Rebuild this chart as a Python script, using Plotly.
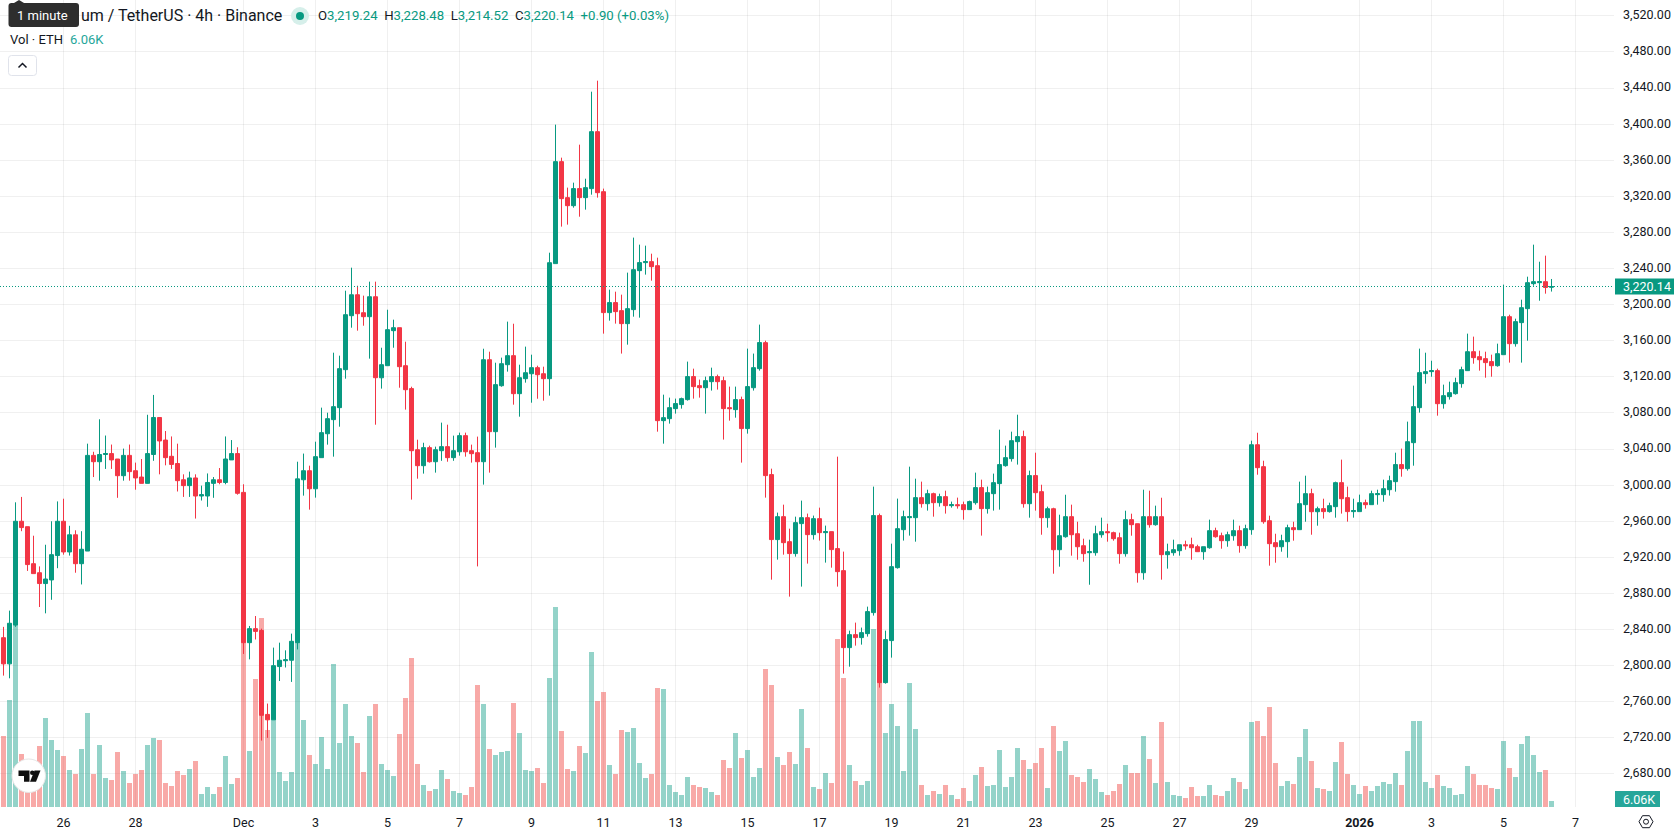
import pandas as pd
import plotly.graph_objects as go

GREEN = "#089981"
RED = "#F23645"
TEXT = "#131722"
GRID = "rgba(46,46,46,0.07)"
FONT = "Roboto"

# 4h Binance ETH/USDT candles
opens = [
    2831, 2802, 2845, 2960, 2954, 2913, 2903, 2891, 2895, 2922,
    2960, 2926, 2945, 2913, 2927, 3033, 3026, 3034, 3035, 3029,
    3010.5, 3033, 3016, 3009, 3002, 3034, 3075, 3050, 3032, 3024,
    3006, 2999.5, 3008, 2988, 2988, 3002, 3006, 3003, 3028, 3035,
    2992, 2825.5, 2841, 2839, 2746, 2740, 2799, 2805.5, 2806, 2825.5,
    3006, 3016, 2996, 3030.5, 3057, 3072.6, 3085.9, 3128, 3187.8, 3211,
    3191.1, 3186.7, 3208.8, 3119, 3132.4, 3171.2, 3174.5, 3132.4, 3107, 3039.3,
    3021.6, 3041.6, 3026, 3038.2, 3042.7, 3030.5, 3037, 3054.9, 3038.2, 3036,
    3026, 3139, 3059.3, 3110.2, 3133.5, 3143.5, 3101.4, 3118, 3123.5, 3130.2,
    3123.5, 3118, 3245.5, 3358.5, 3318.6, 3309.7, 3328.6, 3318.6, 3328.6, 3391.7,
    3325.2, 3191.2, 3202.3, 3193.4, 3179, 3194.5, 3237.7, 3246.6, 3247.7, 3243.2,
    3071.5, 3073.7, 3084.8, 3089.3, 3094.8, 3120.3, 3110.3, 3108, 3114.7, 3120.3,
    3115.8, 3085.9, 3083.7, 3094.8, 3062.7, 3108, 3129.1, 3157.9, 3011.7, 2939.7,
    2965.1, 2937.4, 2924.2, 2957.4, 2964, 2945.2, 2962.9, 2947.4, 2948.5, 2929.7,
    2905.3, 2820, 2834.4, 2831.1, 2835.5, 2858.8, 2966.3, 2781.2, 2827.8, 2908.6,
    2950.7, 2964, 2964, 2986.2, 2979.5, 2990.6, 2980.6, 2987.3, 2977.3, 2978.4,
    2978.4, 2972.9, 2980.6, 2997.3, 2974, 2990.6, 3001.7, 3021.6, 3029.4, 3048.2,
    3053.8, 2979.5, 3010.6, 2992.8, 2964, 2973.9, 2928.5, 2942.9, 2965.1, 2946.2,
    2932.9, 2925.2, 2925.2, 2945.1, 2948.5, 2947.4, 2941.8, 2924.1, 2961.8, 2957.3,
    2903, 2965.1, 2956.2, 2965.1, 2923, 2925.2, 2927.4, 2934, 2934, 2931.8,
    2926.3, 2930.7, 2949.6, 2944, 2938.5, 2944, 2949.6, 2933, 2950.7, 3044.8,
    3020.5, 2960.6, 2936.3, 2931.8, 2937.4, 2952.9, 2950.7, 2978.4, 2990.6, 2970.6,
    2974, 2970.7, 2976.2, 3002.8, 2986.2, 2970.7, 2970.7, 2980.6, 2978.4, 2989.5,
    2989.5, 2995, 3003.9, 3022.8, 3018.3, 3047.1, 3085.9, 3123.6, 3125.8, 3126.9,
    3090.3, 3098.1, 3101.4, 3112.5, 3126.9, 3147.9, 3142.4, 3140.2, 3136.9, 3132.4,
    3144.6, 3186.7, 3156.8, 3180.1, 3195.6, 3223.3, 3224.4, 3225.5, 3219.24,
]
highs = [
    2843, 2861, 2981, 2987, 2954, 2944, 2910, 2934, 2960, 2982,
    2985, 2955, 2950, 2949, 3046, 3037, 3073, 3055, 3045, 3029,
    3040.5, 3045, 3025, 3029, 3078, 3100, 3075, 3060, 3054, 3046,
    3012, 3015, 3012, 2999.5, 3013, 3009, 3019, 3054, 3050, 3042,
    3001, 2844, 2855, 2841, 2758, 2820, 2825.5, 2817, 2835.5, 3026,
    3035, 3021.6, 3048.2, 3085.9, 3080.3, 3146.8, 3143.5, 3215.5, 3241, 3221,
    3210, 3225.5, 3225.5, 3152.3, 3194.4, 3183.4, 3174.5, 3159, 3109.1, 3050.4,
    3047, 3043.8, 3042.7, 3069.3, 3067, 3054.9, 3058.2, 3058.2, 3044.9, 3053.8,
    3151.2, 3147.9, 3135.7, 3141.3, 3181.2, 3178.9, 3133.5, 3153.5, 3144.6, 3132.4,
    3131.3, 3257.6, 3399.5, 3362.9, 3329.7, 3335.2, 3377.3, 3339.6, 3436, 3448.2,
    3328.6, 3216.7, 3214.4, 3211.1, 3235.5, 3274.3, 3266.5, 3265.4, 3256.5, 3252.1,
    3100.3, 3097, 3095.9, 3097, 3136.9, 3129.1, 3117, 3120.3, 3130.2, 3122.5,
    3120.3, 3109.2, 3109.2, 3098.1, 3151.3, 3145.8, 3177.9, 3160.1, 3018.3, 2969.6,
    2978.4, 2951.8, 2965.1, 2982.9, 2968.5, 2966.3, 2975.1, 2955.2, 2948.5, 3031.6,
    2926.4, 2838.8, 2847.7, 2842.2, 2865.4, 2998.4, 2968.5, 2838.8, 2935.2, 2985.1,
    2971.8, 3020.5, 3007.2, 3003.9, 2995, 2991.7, 2990.6, 2993.9, 2981.8, 2986.2,
    2981.8, 2982.9, 3013.9, 3006.1, 2998.4, 3012.8, 3061.5, 3043.8, 3059.3, 3078.1,
    3060.4, 3016.1, 3036, 3000.5, 2976.2, 2975, 2967.3, 2989.4, 2978.4, 2959.5,
    2940.7, 2939.6, 2955.1, 2964, 2957.3, 2948.5, 2947.4, 2971.7, 2968.4, 2957.3,
    2995, 2993.9, 2977.3, 2986.1, 2935.2, 2939.6, 2934, 2938.5, 2941.8, 2934,
    2931.8, 2961.8, 2952.9, 2947.4, 2948.5, 2961.8, 2955.1, 2956.2, 3049.3, 3058.1,
    3027.1, 2966.2, 2946.2, 2945.1, 2956.2, 2959.5, 3003.9, 3010.5, 2996.1, 2976.2,
    2985, 2980.6, 3003.9, 3028.3, 2998.4, 2985, 2989.5, 2984, 2993.9, 2995,
    3006.1, 3010.5, 3036, 3040.5, 3070.4, 3110.3, 3151.3, 3146.8, 3137.9, 3129.1,
    3111.4, 3114.7, 3119.1, 3131.3, 3167.9, 3164.6, 3149, 3147.9, 3144.6, 3156.8,
    3222.2, 3188.9, 3184.5, 3205.5, 3231, 3266.5, 3247.6, 3254.3, 3228.48,
]
lows = [
    2789, 2786, 2843, 2949, 2905, 2902, 2865, 2858, 2873, 2908,
    2923, 2922, 2903, 2890, 2927, 3009, 3005, 3018, 3018, 2986,
    3005, 3005, 2995, 3002, 3002, 3027, 3012, 3022, 3018, 2993,
    2987, 2987, 2963, 2983, 2976, 2986, 3001, 3001, 3028, 2989.5,
    2813, 2807, 2829, 2717, 2720, 2740, 2783, 2798, 2782, 2818,
    2988.4, 2972.9, 2986.2, 3030.5, 3044.9, 3031.6, 3064.8, 3118, 3174.5, 3171.2,
    3176.7, 3140.2, 3067, 3107, 3132.4, 3152.3, 3108, 3083.7, 2984, 3007.2,
    3012.8, 3025, 3013.9, 3027, 3026, 3027, 3032.7, 3031.6, 3025, 2910,
    3000.6, 3013.9, 3041.6, 3109.1, 3125.8, 3089.2, 3075.9, 3113.6, 3091.4, 3095.8,
    3093.6, 3099.2, 3245.5, 3286.5, 3288.7, 3307.5, 3297.5, 3305.3, 3321.9, 3318.6,
    3167.9, 3182.3, 3179, 3145.8, 3155.7, 3186.7, 3185.6, 3233.3, 3226.6, 3059.3,
    3046, 3068.2, 3079.3, 3084.8, 3093.7, 3095.9, 3097, 3079.3, 3104.8, 3105.9,
    3050.5, 3071.5, 3074.8, 3025, 3057.1, 3104.8, 3126.9, 2986.2, 2895.3, 2917.5,
    2923, 2876.5, 2920.8, 2887.6, 2913.1, 2939.7, 2938.6, 2914.2, 2908.6, 2887.6,
    2791.2, 2798.9, 2822.2, 2823.3, 2832.2, 2855.5, 2775.7, 2780.1, 2808.9, 2907.5,
    2938.6, 2944.1, 2937.4, 2975.1, 2971.8, 2965.1, 2976.2, 2968.5, 2975.1, 2974,
    2961.8, 2972.9, 2978.4, 2944.1, 2968.5, 2971.8, 2972.9, 3020.5, 3026.1, 3022.8,
    2975.1, 2964, 2971.8, 2945.1, 2952.9, 2901.9, 2909.7, 2941.8, 2921.9, 2917.4,
    2915.2, 2889.7, 2921.9, 2941.8, 2937.4, 2938.5, 2913, 2920.8, 2944, 2892,
    2895.3, 2952.9, 2955.1, 2895.3, 2907.5, 2921.9, 2921.9, 2928.5, 2917.4, 2926.3,
    2917.4, 2929.6, 2941.8, 2929.6, 2931.8, 2938.5, 2925.2, 2929.6, 2945.1, 3011.6,
    2957.3, 2910.8, 2914.1, 2926.3, 2919.6, 2938.5, 2950.7, 2959.5, 2945.1, 2955.1,
    2963, 2969.6, 2964, 2968.5, 2959.6, 2964, 2970.7, 2974, 2978.4, 2978.4,
    2981.7, 2988.4, 2992.8, 3009.4, 3016.1, 3021.6, 3080.4, 3112.5, 3120.2, 3077,
    3084.8, 3094.8, 3100.3, 3108, 3126.9, 3134.6, 3126.9, 3119.1, 3120.2, 3131.3,
    3144.6, 3135.8, 3153.5, 3135.8, 3160.1, 3221, 3204.4, 3212.2, 3214.52,
]
closes = [
    2802, 2847, 2960, 2953, 2912, 2902, 2891, 2896, 2923, 2960,
    2926, 2945, 2913, 2929, 3033, 3026, 3034, 3035, 3028, 3010.5,
    3033, 3015, 3008, 3002, 3035, 3075, 3049, 3030.5, 3023, 3005,
    2999.5, 3008, 2988, 2989.5, 3003, 3006, 3003, 3029, 3035, 2991,
    2825.5, 2841, 2838, 2745, 2740, 2800, 2806, 2806.5, 2827, 3007,
    3016, 2996, 3031.6, 3058.2, 3073.7, 3087, 3129.1, 3188.9, 3211, 3190,
    3186.7, 3208.8, 3119.1, 3133.5, 3172.3, 3174.5, 3131.3, 3105.8, 3038.2, 3021.6,
    3041.6, 3026, 3039.3, 3042.7, 3030.5, 3038.2, 3054.9, 3037, 3034.9, 3026,
    3139, 3059.3, 3111.4, 3134.6, 3143.5, 3101.4, 3119.1, 3124.6, 3130.2, 3122.4,
    3118, 3246.5, 3358.5, 3317.5, 3309.7, 3328.6, 3318.6, 3329.7, 3391.7, 3324.1,
    3191.2, 3202.3, 3192.3, 3179, 3195.6, 3238.8, 3246.6, 3247.7, 3242.1, 3071.5,
    3074.8, 3085.9, 3090.4, 3095.9, 3120.3, 3109.2, 3108, 3115.8, 3120.3, 3114.7,
    3084.8, 3084.8, 3094.8, 3062.7, 3109.2, 3130.2, 3158, 3010.6, 2939.7, 2965.1,
    2936.3, 2924.2, 2958.5, 2964, 2945.2, 2962.9, 2947.4, 2948.5, 2928.6, 2904.2,
    2820, 2834.4, 2831.1, 2836.6, 2859.9, 2966.3, 2781.2, 2828.9, 2909.7, 2951.8,
    2965.1, 2965.1, 2986.2, 2979.5, 2990.6, 2980.6, 2987.3, 2977.3, 2978.4, 2977.3,
    2972.9, 2981.8, 2997.3, 2974, 2991.7, 3002.8, 3022.8, 3030.5, 3049.3, 3053.8,
    2979.5, 3010.6, 2991.7, 2964, 2973.9, 2928.5, 2944, 2965.1, 2945.1, 2931.8,
    2924.1, 2926.3, 2946.2, 2948.5, 2947.4, 2940.7, 2924.1, 2961.8, 2956.2, 2903,
    2965.1, 2956.2, 2965.1, 2923, 2926.3, 2928.5, 2934, 2932.9, 2930.7, 2926.3,
    2931.8, 2949.6, 2942.9, 2938.5, 2945.1, 2949.6, 2933, 2951.8, 3044.8, 3019.4,
    2959.5, 2935.2, 2931.8, 2938.5, 2952.9, 2950.7, 2979.5, 2990.6, 2970.6, 2973.9,
    2970.7, 2977.3, 3002.8, 2985, 2970.7, 2971.8, 2980.6, 2978.4, 2990.6, 2990.6,
    2996.1, 3005, 3022.8, 3018.3, 3048.2, 3087, 3124.7, 3125.8, 3126.9, 3090.3,
    3099.2, 3102.5, 3113.6, 3128, 3147.9, 3141.3, 3139, 3135.8, 3132.4, 3145.7,
    3186.7, 3156.8, 3181.2, 3196.7, 3224.4, 3225.5, 3225.5, 3219, 3220.14,
]
# Volume per candle, thousands of ETH
volumes = [
    71, 107, 182, 53, 43, 38, 61, 89, 67, 57,
    51, 37, 33, 58, 94, 33, 62, 29, 27, 55,
    36, 24, 33, 37, 62, 69, 67, 24, 21, 36,
    32, 38, 46, 13, 20, 13, 20, 51, 23, 29,
    170, 56, 128, 189, 77, 90, 35, 26, 35, 165,
    87, 52, 43, 70, 38, 143, 64, 103, 71, 64,
    35, 91, 103, 43, 37, 31, 73, 109, 149, 43,
    22, 16, 18, 37, 28, 16, 14, 12, 20, 122,
    103, 58, 52, 55, 56, 104, 74, 37, 36, 39,
    24, 129, 200, 76, 38, 36, 61, 54, 155, 106,
    115, 42, 33, 77, 75, 79, 44, 29, 33, 119,
    118, 22, 15, 12, 30, 22, 20, 19, 15, 12,
    47, 39, 74, 49, 57, 30, 39, 138, 122, 50,
    42, 55, 43, 98, 59, 20, 18, 34, 24, 168,
    129, 42, 26, 22, 26, 178, 125, 74, 103, 81,
    36, 124, 78, 22, 12, 16, 13, 22, 12, 8,
    19, 6, 32, 40, 21, 22, 57, 20, 30, 59,
    47, 38, 44, 59, 19, 81, 56, 66, 32, 30,
    25, 38, 28, 15, 12, 16, 23, 42, 34, 34,
    71, 48, 24, 85, 25, 12, 11, 9, 20, 11,
    11, 22, 12, 11, 16, 29, 25, 18, 85, 86,
    71, 100, 44, 21, 26, 23, 50, 78, 46, 19,
    18, 16, 45, 65, 33, 22, 13, 21, 16, 21,
    25, 23, 34, 22, 56, 86, 86, 25, 19, 32,
    21, 19, 12, 13, 41, 33, 22, 22, 19, 18,
    66, 39, 30, 63, 71, 52, 35, 37, 6.06,
]

# Date-axis ticks and their labels
tick_dates = [
    "2025-11-26", "2025-11-28", "2025-12-01", "2025-12-03", "2025-12-05", "2025-12-07",
    "2025-12-09", "2025-12-11", "2025-12-13", "2025-12-15", "2025-12-17", "2025-12-19",
    "2025-12-21", "2025-12-23", "2025-12-25", "2025-12-27", "2025-12-29", "2026-01-01",
    "2026-01-03", "2026-01-05", "2026-01-07",
]
tick_labels = [
    "26", "28", "Dec", "3", "5", "7", "9", "11", "13", "15", "17", "19",
    "21", "23", "25", "27", "29", "<b>2026</b>", "3", "5", "7",
]
last_price = 3220.14

WIDTH, HEIGHT = 1678, 835
PANE_W, PANE_H = 1614, 807
times = pd.date_range("2025-11-24 08:00", periods=len(opens), freq="4h")


def X(px):
    return px / PANE_W


def Y(py):
    return 1 - py / PANE_H


def pane_shape(kind, x0, y0, x1, y1, **kw):
    return dict(type=kind, xref="paper", yref="paper", x0=X(x0), x1=X(x1), y0=Y(y0), y1=Y(y1), layer="above", **kw)


def rounded(x0, y0, x1, y1, r):
    pts = (
        f"M{X(x0 + r)},{Y(y0)} L{X(x1 - r)},{Y(y0)} Q{X(x1)},{Y(y0)} {X(x1)},{Y(y0 + r)} "
        f"L{X(x1)},{Y(y1 - r)} Q{X(x1)},{Y(y1)} {X(x1 - r)},{Y(y1)} "
        f"L{X(x0 + r)},{Y(y1)} Q{X(x0)},{Y(y1)} {X(x0)},{Y(y1 - r)} "
        f"L{X(x0)},{Y(y0 + r)} Q{X(x0)},{Y(y0)} {X(x0 + r)},{Y(y0)} Z"
    )
    return pts


def poly(points, close=True):
    body = " L".join(f"{X(a)},{Y(b)}" for a, b in points)
    return "M" + body + (" Z" if close else "")


def path_shape(d, **kw):
    return dict(type="path", xref="paper", yref="paper", path=d, layer="above", **kw)


def label(px, py, text, size=13, color=TEXT, anchor="left"):
    return dict(
        xref="paper", yref="paper", x=X(px), y=Y(py), text=text, showarrow=False,
        xanchor=anchor, yanchor="middle", borderpad=0,
        font=dict(family=FONT, size=size, color=color),
    )


bar_colors = [
    "rgba(8,153,129,0.43)" if c >= o else "rgba(240,60,55,0.44)"
    for o, c in zip(opens, closes)
]

fig = go.Figure()
fig.add_trace(go.Bar(
    x=times, y=volumes, yaxis="y", marker=dict(color=bar_colors, line=dict(width=0)),
    width=12000000, hoverinfo="skip", showlegend=False,
))
fig.add_trace(go.Candlestick(
    x=times, open=opens, high=highs, low=lows, close=closes, yaxis="y2",
    increasing=dict(line=dict(color=GREEN, width=1), fillcolor=GREEN),
    decreasing=dict(line=dict(color=RED, width=1), fillcolor=RED),
    whiskerwidth=0, hoverinfo="skip", showlegend=False,
))

GAP = "\u00a0"
ohlc_text = (
    f'<span style="color:{TEXT}">O</span>3,219.24{GAP}{GAP}'
    f'<span style="color:{TEXT}">H</span>3,228.48{GAP}{GAP}'
    f'<span style="color:{TEXT}">L</span>3,214.52{GAP}{GAP}'
    f'<span style="color:{TEXT}">C</span>3,220.14{GAP}{GAP}+0.90 (+0.03%)'
)

shapes = [
    dict(type="line", xref="paper", yref="y2", x0=0, x1=1, y0=last_price, y1=last_price,
         line=dict(color=GREEN, width=1, dash="1px,2px"), layer="above"),
    pane_shape("rect", 1615, 278.5, 1674, 294.5, fillcolor=GREEN, line=dict(width=0)),
    pane_shape("rect", 1615, 791, 1660, 807, fillcolor="#26A69A", line=dict(width=0)),
    # tooltip
    path_shape(rounded(8.5, 3, 79, 27, 3), fillcolor="#2E2E2E", line=dict(width=0)),
    path_shape(poly([(14, 3), (19, 0), (24, 3)]), fillcolor="#2E2E2E", line=dict(width=0)),
    # status dot
    pane_shape("circle", 291, 7, 309, 25, fillcolor="#D6EFEA", line=dict(width=0)),
    pane_shape("circle", 296, 12, 304, 20, fillcolor=GREEN, line=dict(width=0)),
    # collapse button
    path_shape(rounded(8.5, 55.5, 36.5, 75.5, 3), fillcolor="white", line=dict(color="#E0E3EB", width=1)),
    path_shape(poly([(18.5, 67.5), (22.5, 63.5), (26.5, 67.5)], close=False), line=dict(color=TEXT, width=1.5)),
    # watermark logo
    pane_shape("circle", 12, 759, 45.5, 792.5, fillcolor="white", line=dict(color="#E6E6E6", width=1)),
    path_shape(poly([(18.5, 770.5), (29.5, 770.5), (29.5, 781.8), (24, 781.8), (24, 776), (18.5, 776)]),
               fillcolor="#0F0F0F", line=dict(width=0)),
    pane_shape("circle", 30, 770.5, 34.5, 775, fillcolor="#0F0F0F", line=dict(width=0)),
    path_shape(poly([(40.5, 770.5), (36, 781.8), (30, 781.8), (34.5, 770.5)]), fillcolor="#0F0F0F", line=dict(width=0)),
    # settings icon
    path_shape(poly([(1639, 821.7), (1642.5, 815.7), (1649.5, 815.7), (1653, 821.7), (1649.5, 827.7), (1642.5, 827.7)]),
               line=dict(color=TEXT, width=1)),
    pane_shape("circle", 1643.5, 819.2, 1648.5, 824.2, line=dict(color=TEXT, width=1)),
]

annotations = [
    label(79.5, 16, "um / TetherUS · 4h · Binance", size=16),
    label(16, 15.5, "1 minute", size=13, color="white"),
    label(316.5, 16, ohlc_text, size=13.2, color=GREEN),
    label(9, 40, "Vol · ETH", size=13),
    label(69, 40, "6.06K", size=13, color="#26A69A"),
    label(1622, 286.5, "3,220.14", size=12.5, color="white"),
    label(1622, 799, "6.06K", size=12.5, color="white"),
]

fig.update_layout(
    width=WIDTH, height=HEIGHT, autosize=False,
    margin=dict(l=0, r=WIDTH - PANE_W, t=0, b=HEIGHT - PANE_H),
    paper_bgcolor="white", plot_bgcolor="white",
    font=dict(family=FONT, size=12, color=TEXT),
    showlegend=False, bargap=0, boxgap=0.33, boxgroupgap=0, boxmode="overlay",
    shapes=shapes, annotations=annotations, hovermode=False, dragmode=False,
    xaxis=dict(
        type="date", range=["2025-11-24 05:40", "2026-01-08 01:40"],
        tickmode="array", tickvals=tick_dates, ticktext=tick_labels, ticks="",
        showgrid=True, gridcolor=GRID, gridwidth=1, zeroline=False, showline=False,
        rangeslider=dict(visible=False), tickangle=0,
        tickfont=dict(family=FONT, size=12.5, color=TEXT), ticklabelstandoff=6,
    ),
    yaxis=dict(range=[0, PANE_H], visible=False, fixedrange=True),
    yaxis2=dict(
        overlaying="y", side="right", range=[2643.4, 3537.6], tick0=0, dtick=40,
        tickformat=",.2f", ticks="", showgrid=True, gridcolor=GRID, gridwidth=1,
        zeroline=False, showline=False, ticklabelstandoff=8, ticklabelshift=-1,
        tickfont=dict(family=FONT, size=12.5, color=TEXT),
    ),
)

fig.write_html("out.html", config=dict(displayModeBar=False))
